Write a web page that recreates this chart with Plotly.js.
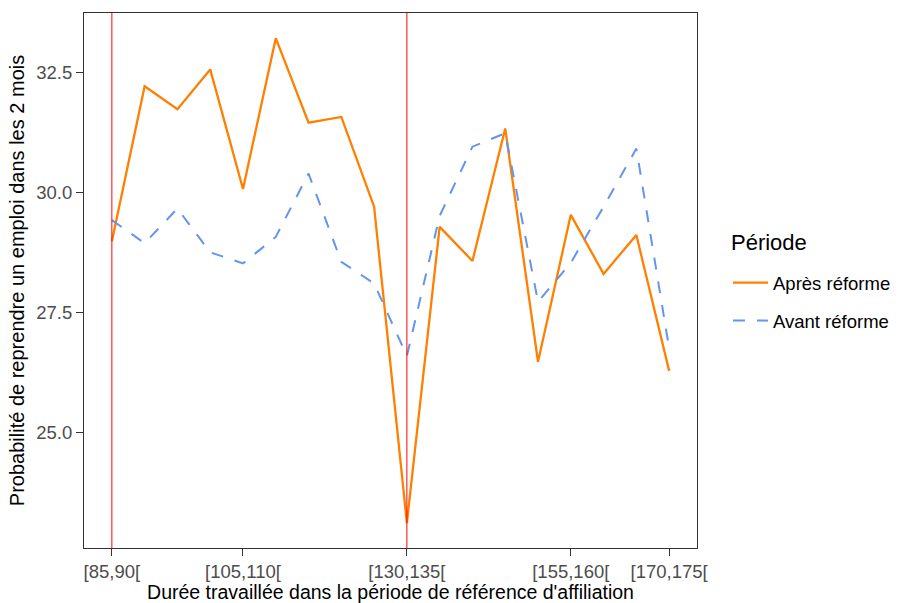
<!DOCTYPE html>
<html>
<head>
<meta charset="utf-8">
<script src="https://cdn.plot.ly/plotly-3.0.1.min.js"></script>
<style>html,body{margin:0;padding:0;background:#fff;}#chart{width:898px;height:603px;}</style>
</head>
<body>
<div id="chart"></div>
<script>
const categories = ['[85,90[', '[90,95[', '[95,100[', '[100,105[', '[105,110[', '[110,115[', '[115,120[', '[120,125[', '[125,130[', '[130,135[', '[135,140[', '[140,145[', '[145,150[', '[150,155[', '[155,160[', '[160,165[', '[165,170[', '[170,175['];
const apres = [28.99, 32.22, 31.74, 32.57, 30.08, 33.22, 31.46, 31.58, 29.71, 23.12, 29.29, 28.58, 31.34, 26.48, 29.54, 28.31, 29.12, 26.29];
const avant = [29.43, 28.95, 29.67, 28.76, 28.53, 29.08, 30.40, 28.56, 28.11, 26.60, 29.52, 30.96, 31.24, 27.73, 28.54, 29.71, 30.92, 26.76];
const tickLabels = ['[85,90[', '[105,110[', '[130,135[', '[155,160[', '[170,175['];
const redLineCats = ['[85,90[', '[130,135['];
const yTicks = [25.0, 27.5, 30.0, 32.5];
const legendTitle = 'Période';

const FONT = 'Liberation Sans, Arial, sans-serif';
const L = 84, R = 697, T = 13, B = 548;
const px2x = p => (p - L) / (R - L);
const px2y = p => 1 - (p - T) / (B - T);

const traces = [
  {x: categories, y: apres, type: 'scatter', mode: 'lines', name: 'Après réforme',
   legendgroup: 'a', line: {color: '#FF7F00', width: 2.3}},
  {x: categories, y: avant, type: 'scatter', mode: 'lines', name: 'Avant réforme',
   legendgroup: 'b', line: {color: '#6495ED', width: 2, dash: '12px,12px'}}
];

const shapes = redLineCats.map(c => ({
  type: 'line', xref: 'x', yref: 'paper', layer: 'above',
  x0: categories.indexOf(c), x1: categories.indexOf(c), y0: 0, y1: 1,
  line: {color: '#FF0000', width: 1}
}));

const layout = {
  width: 898, height: 603,
  margin: {l: L, r: 898 - R, t: T, b: 603 - B, autoexpand: false},
  paper_bgcolor: '#ffffff', plot_bgcolor: '#ffffff',
  font: {family: FONT, color: '#000000'},
  showlegend: true,
  xaxis: {
    type: 'category', categoryorder: 'array', categoryarray: categories,
    range: [-0.85, 17.85], tickmode: 'array', tickvals: tickLabels, ticktext: tickLabels,
    showgrid: false, zeroline: false, showline: true, mirror: true,
    linecolor: '#333333', linewidth: 1,
    ticks: 'outside', ticklen: 7, tickcolor: '#333333', tickwidth: 1,
    tickfont: {family: FONT, size: 18.5, color: '#4D4D4D'},
    title: {text: "Durée travaillée dans la période de référence d'affiliation",
            font: {family: FONT, size: 19.5, color: '#000000'}, standoff: 4}
  },
  yaxis: {
    range: [22.6, 33.745], tickmode: 'array', tickvals: yTicks,
    ticktext: yTicks.map(v => v.toFixed(1)),
    showgrid: false, zeroline: false, showline: true, mirror: true,
    linecolor: '#333333', linewidth: 1,
    ticks: 'outside', ticklen: 7, tickcolor: '#333333', tickwidth: 1,
    tickfont: {family: FONT, size: 18.5, color: '#4D4D4D'},
    title: {text: 'Probabilité de reprendre un emploi dans les 2 mois',
            font: {family: FONT, size: 20, color: '#000000'}, standoff: 6}
  },
  legend: {
    x: px2x(728), xanchor: 'left', y: px2y(264), yanchor: 'top',
    bgcolor: 'rgba(0,0,0,0)', borderwidth: 0,
    font: {family: FONT, size: 18.5, color: '#000000'},
    tracegroupgap: 11, itemwidth: 35
  },
  annotations: [{
    text: legendTitle, xref: 'paper', yref: 'paper', x: px2x(729), y: px2y(242),
    xanchor: 'left', yanchor: 'middle', showarrow: false,
    font: {family: FONT, size: 22, color: '#000000'}
  }],
  shapes: shapes
};

Plotly.newPlot('chart', traces, layout, {displayModeBar: false, staticPlot: true});
</script>
</body>
</html>
